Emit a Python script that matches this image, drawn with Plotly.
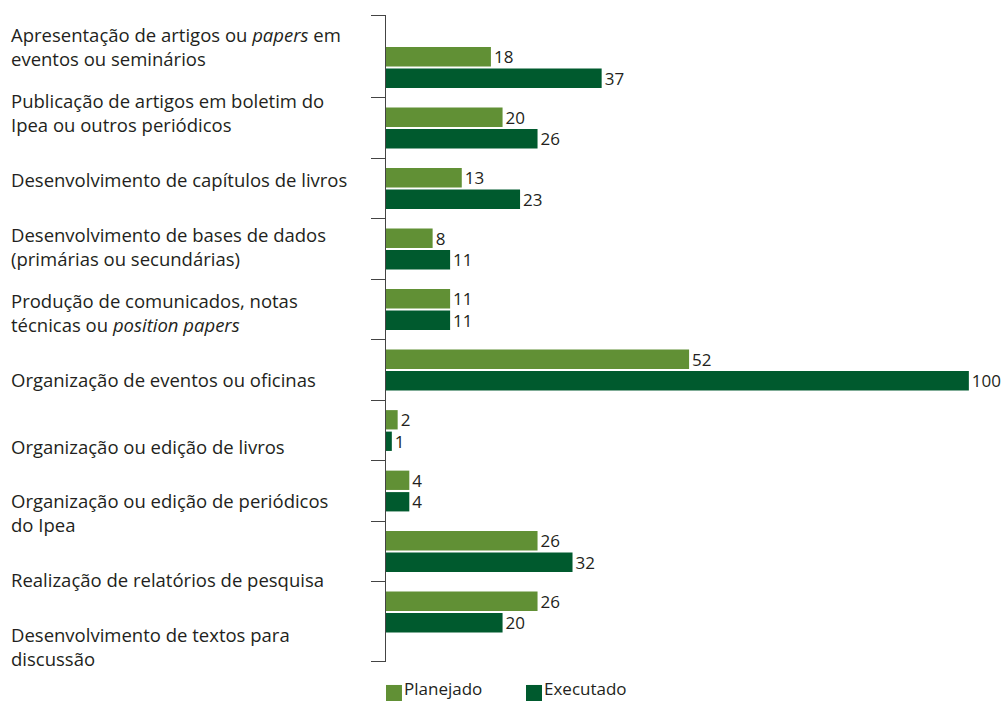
import plotly.graph_objects as go

categories = [
    "Apresentação de artigos ou <i>papers</i> em<br>eventos ou seminários",
    "Publicação de artigos em boletim do<br>Ipea ou outros periódicos",
    "Desenvolvimento de capítulos de livros",
    "Desenvolvimento de bases de dados<br>(primárias ou secundárias)",
    "Produção de comunicados, notas<br>técnicas ou <i>position papers</i>",
    "Organização de eventos ou oficinas",
    "Organização ou edição de livros",
    "Organização ou edição de periódicos<br>do Ipea",
    "Realização de relatórios de pesquisa",
    "Desenvolvimento de textos para<br>discussão",
]
series_names = ["Planejado", "Executado"]
planejado = [18, 20, 13, 8, 11, 52, 2, 4, 26, 26]
executado = [37, 26, 23, 11, 11, 100, 1, 4, 32, 20]

FONT = "Open Sans"
C_PLAN = "#619035"
C_EXEC = "#005a2e"
TXT = "#231f20"

pos = list(range(len(categories)))

fig = go.Figure()
for name, vals, col in [(series_names[0], planejado, C_PLAN), (series_names[1], executado, C_EXEC)]:
    fig.add_trace(go.Bar(
        y=pos, x=vals, orientation="h", name=name,
        marker=dict(color=col, line=dict(width=0)),
        text=[str(v) for v in vals], textposition="outside", constraintext="none",
        textfont=dict(family=FONT, size=17, color=TXT), cliponaxis=False,
        showlegend=False,
    ))

# category labels (left aligned, spread over axis height)
annotations = []
for i, lab in enumerate(categories):
    annotations.append(dict(
        xref="paper", yref="y", x=-0.609, y=-0.355 + i * 1.102,
        text=lab, showarrow=False, xanchor="left", yanchor="middle",
        align="left", font=dict(family=FONT, size=18.5, color=TXT),
    ))

# custom legend (large square swatches)
shapes = []
leg_x = [0.0, 0.2262]
for (lx, name, col) in zip(leg_x, series_names, [C_PLAN, C_EXEC]):
    shapes.append(dict(type="rect", xref="paper", yref="paper",
                       x0=lx, x1=lx + 0.0258, y0=-0.0355, y1=-0.064,
                       fillcolor=col, line=dict(width=0)))
    annotations.append(dict(xref="paper", yref="paper", x=lx + 0.028, y=-0.0417,
                            text=name, showarrow=False, xanchor="left", yanchor="middle",
                            borderpad=0,
                            font=dict(family=FONT, size=17, color=TXT)))

tickpos = [-0.86] + [i + 0.5 for i in range(len(categories) - 1)] + [9.82]

fig.update_layout(
    width=1005, height=701,
    margin=dict(l=386, r=0, t=15, b=39, autoexpand=False),
    plot_bgcolor="white", paper_bgcolor="white",
    barmode="group", bargap=0.29, bargroupgap=0.1,
    showlegend=False,
    annotations=annotations,
    shapes=shapes,
    xaxis=dict(range=[0, 106.2], visible=False),
    yaxis=dict(range=[9.826, -0.868], tickvals=tickpos, ticktext=[""] * len(tickpos),
               showgrid=False, zeroline=False, showline=True, linecolor="#444",
               linewidth=1, ticks="outside", ticklen=14, tickcolor="#444", tickwidth=1),
)

fig.write_html("out.html")
